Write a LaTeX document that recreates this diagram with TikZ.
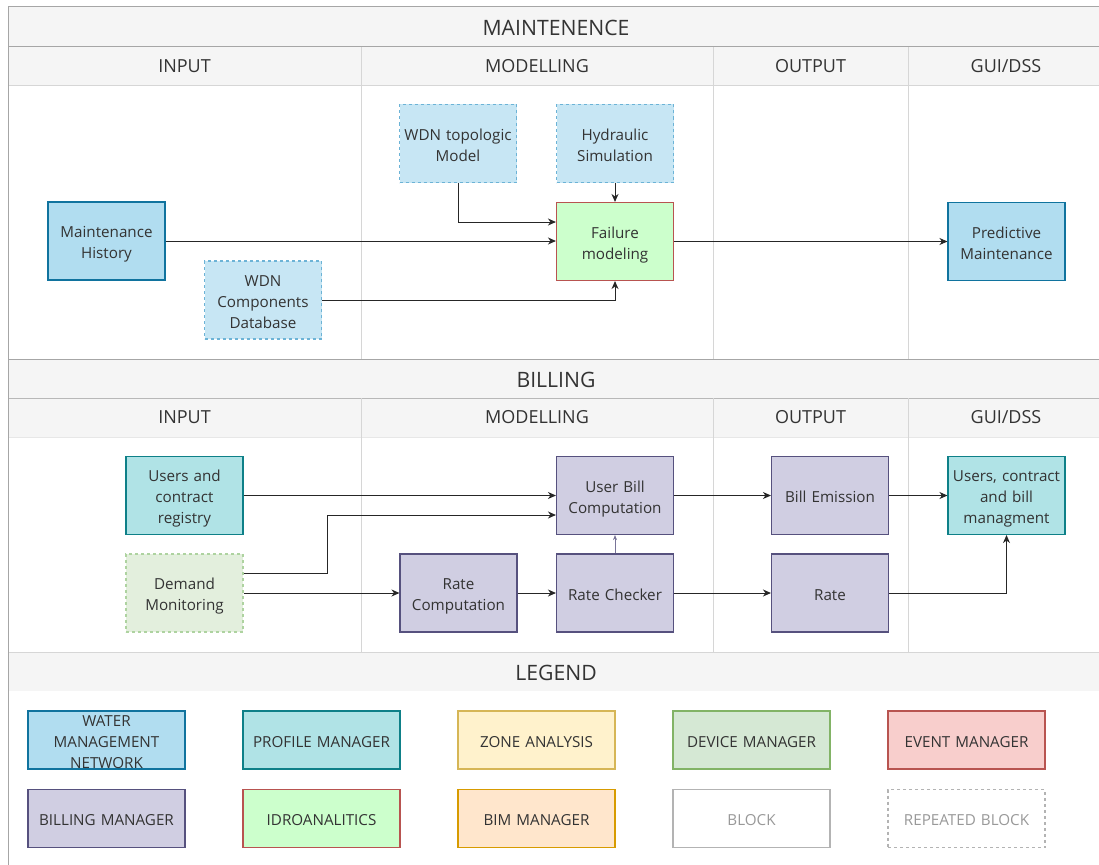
\documentclass[tikz,border=0pt]{standalone}
\usepackage{fontspec}
\setmainfont{Open Sans}
\usetikzlibrary{arrows.meta}

\definecolor{txt}{HTML}{333333}
\definecolor{band}{HTML}{F5F5F5}
\definecolor{frameline}{HTML}{A6A6A6}
\definecolor{divline}{HTML}{D6D6D6}
% palette
\definecolor{wmnF}{HTML}{B1DDF0}\definecolor{wmnD}{HTML}{10739E}
\definecolor{wmnLF}{HTML}{C7E6F4}\definecolor{wmnLD}{HTML}{6CB3D6}
\definecolor{prfF}{HTML}{B0E3E6}\definecolor{prfD}{HTML}{0E8088}
\definecolor{zonF}{HTML}{FFF2CC}\definecolor{zonD}{HTML}{D6B656}
\definecolor{devF}{HTML}{D5E8D4}\definecolor{devD}{HTML}{82B366}
\definecolor{devLF}{HTML}{E3EFDD}\definecolor{devLD}{HTML}{AED3A0}
\definecolor{evtF}{HTML}{F8CECC}\definecolor{evtD}{HTML}{B85450}
\definecolor{bilF}{HTML}{D0CEE2}\definecolor{bilD}{HTML}{56517E}
\definecolor{idrF}{HTML}{CCFFCC}
\definecolor{bimF}{HTML}{FFE6CC}\definecolor{bimD}{HTML}{D79B00}
\definecolor{blkD}{HTML}{B3B3B3}\definecolor{blkT}{HTML}{999999}

% struts above the first line and below the last line of a block
\newcommand{\bodytop}{\rule{0pt}{19pt}}
\newcommand{\bodybot}{\rule[-4.1pt]{0pt}{4.1pt}}
\newcommand{\legtop}{\rule{0pt}{15.5pt}}
\newcommand{\legbot}{\rule[-4pt]{0pt}{4pt}}

\tikzset{
  box/.style={rectangle, draw, line width=1.1pt, minimum width=117pt, minimum height=78pt,
    inner xsep=1pt, inner ysep=2pt, text width=115pt, align=center, text=txt,
    font=\fontsize{15.2}{21}\selectfont,
    execute at begin node=\bodytop, execute at end node=\bodybot},
  lbox/.style={box, minimum width=157pt, minimum height=58pt, text width=155pt,
    font=\fontsize{15.2}{21}\selectfont,
    execute at begin node=\legtop, execute at end node=\legbot},
  lgtxt/.style={align=center, text=txt, inner sep=0pt, font=\fontsize{15.2}{21}\selectfont},
  wmn/.style={fill=wmnF, draw=wmnD},
  wmnrep/.style={fill=wmnLF, draw=wmnLD, dash pattern=on 3pt off 3pt},
  prf/.style={fill=prfF, draw=prfD},
  zon/.style={fill=zonF, draw=zonD},
  dev/.style={fill=devF, draw=devD},
  devrep/.style={fill=devLF, draw=devLD, dash pattern=on 3pt off 3pt},
  evt/.style={fill=evtF, draw=evtD},
  bil/.style={fill=bilF, draw=bilD},
  idr/.style={fill=idrF, draw=evtD},
  bim/.style={fill=bimF, draw=bimD},
  blk/.style={fill=white, draw=blkD, text=blkT},
  blkrep/.style={fill=white, draw=blkD, text=blkT, dash pattern=on 3pt off 3pt},
  arr/.style={draw=black!85, line width=1pt, -{Stealth[length=8pt,width=7pt,inset=2.5pt]}},
  arrthin/.style={draw=bilD!80, line width=0.8pt, -{Stealth[length=5pt,width=4pt,inset=1.5pt]}},
  sectitle/.style={text=txt, font=\fontsize{21.2}{24}\selectfont},
  colhead/.style={text=txt, font=\fontsize{18}{21}\selectfont},
}

\begin{document}
\begin{tikzpicture}[x=1pt, y=-1pt]
\useasboundingbox (0,0) rectangle (1099,864);

% header bands
\fill[band] (8,7) rectangle (1104,86);
\fill[band] (8,359) rectangle (1104,437);
\fill[band] (8,652) rectangle (1104,691);

% horizontal rules
\draw[frameline, line width=1pt] (8,7) -- (1104,7);
\draw[frameline, line width=1pt] (8,47) -- (1104,47);
\draw[divline, line width=1pt] (8,86) -- (1104,86);
\draw[frameline, line width=1pt] (8,359) -- (1104,359);
\draw[frameline!80, line width=1pt] (8,398) -- (1104,398);
\draw[divline!60, line width=1pt] (8,437) -- (1104,437);
\draw[divline, line width=1pt] (8,652) -- (1104,652);

% column dividers
\foreach \cx in {361,713,908}{
  \draw[divline, line width=1pt] (\cx,47) -- (\cx,359);
  \draw[divline, line width=1pt] (\cx,398) -- (\cx,652);
}
% outer left border
\draw[frameline, line width=1pt] (8,7) -- (8,870);

% section and column titles
\node[sectitle] (tMaint) at (556,27.5) {MAINTENENCE};
\node[colhead] (hIn1) at (184.5,66.5) {INPUT};
\node[colhead] (hMod1) at (537,66.5) {MODELLING};
\node[colhead] (hOut1) at (810.5,66.5) {OUTPUT};
\node[colhead] (hGui1) at (1006,66.5) {GUI/DSS};

\node[sectitle] (tBill) at (556,379.5) {BILLING};
\node[colhead] (hIn2) at (184.5,417.5) {INPUT};
\node[colhead] (hMod2) at (537,417.5) {MODELLING};
\node[colhead] (hOut2) at (810.5,417.5) {OUTPUT};
\node[colhead] (hGui2) at (1006,417.5) {GUI/DSS};

\node[sectitle] (tLeg) at (556,672.5) {LEGEND};

% maintenance blocks
\node[box, wmn] (mh) at (106.5,241) {Maintenance\\History};
\node[box, wmnrep] (wdb) at (263,300) {WDN\\Components\\Database};
\node[box, wmnrep] (wtm) at (458,143.5) {WDN topologic\\Model};
\node[box, wmnrep] (hyd) at (615,143.5) {Hydraulic\\Simulation};
\node[box, idr] (fail) at (615,241.5) {Failure\\modeling};
\node[box, wmn] (pred) at (1006.5,241.5) {Predictive\\Maintenance};

\draw[arr] (mh.east) -- (fail.west |- mh.east);
\draw[arr] (wtm.south) |- ([yshift=19.5pt]fail.west);
\draw[arr] (hyd.south) -- (fail.north);
\draw[arr] (wdb.east) -| (fail.south);
\draw[arr] (fail.east) -- (pred.west);

% billing blocks
\node[box, prf] (ucr) at (184.5,495.5) {Users and\\contract\\registry};
\node[box, bil] (ubc) at (615,495.5) {User Bill\\Computation};
\node[box, bil] (be) at (830,495.5) {Bill Emission};
\node[box, prf] (ucb) at (1006.5,495.5) {Users, contract\\and bill\\managment};
\node[box, devrep] (dm) at (184.5,593) {Demand\\Monitoring};
\node[box, bil] (rc) at (458.5,593) {Rate\\Computation};
\node[box, bil] (rch) at (615,593) {Rate Checker};
\node[box, bil] (rate) at (830,593) {Rate};

\draw[arr] (ucr.east) -- (ubc.west);
\draw[arr] ([yshift=20pt]dm.east) -- ++(84,0) |- ([yshift=-19.5pt]ubc.west);
\draw[arr] (dm.east) -- (rc.west);
\draw[arr] (rc.east) -- (rch.west);
\draw[arrthin] (rch.north) -- (ubc.south);
\draw[arr] (ubc.east) -- (be.west);
\draw[arr] (be.east) -- (ucb.west);
\draw[arr] (rch.east) -- (rate.west);
\draw[arr] (rate.east) -| (ucb.south);

% legend (the three-line entry fills its box, so its text is set as a centred label)
\node[lbox, wmn, label={[lgtxt, yshift=-2.5pt]center:{WATER\\MANAGEMENT\\NETWORK}}]
  (lgWmn) at (106.5,740) {};
\node[lbox, prf] (lgPrf) at (321.5,740) {PROFILE MANAGER};
\node[lbox, zon] (lgZon) at (536.5,740) {ZONE ANALYSIS};
\node[lbox, dev] (lgDev) at (751.5,740) {DEVICE MANAGER};
\node[lbox, evt] (lgEvt) at (966.5,740) {EVENT MANAGER};
\node[lbox, bil] (lgBil) at (106.5,818.5) {BILLING MANAGER};
\node[lbox, idr] (lgIdr) at (321.5,818.5) {IDROANALITICS};
\node[lbox, bim] (lgBim) at (536.5,818.5) {BIM MANAGER};
\node[lbox, blk] (lgBlk) at (751.5,818.5) {BLOCK};
\node[lbox, blkrep] (lgRep) at (966.5,818.5) {REPEATED BLOCK};
\end{tikzpicture}
\end{document}
